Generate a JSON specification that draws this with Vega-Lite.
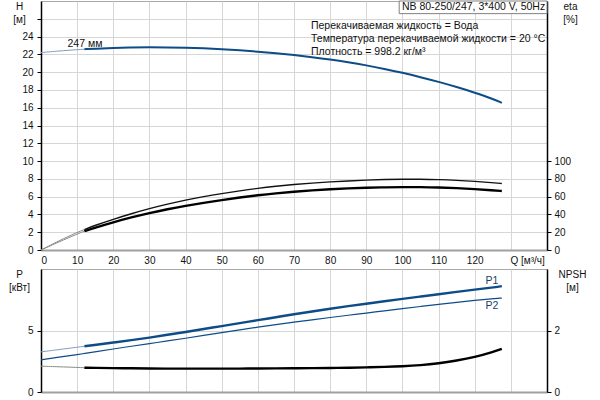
{
  "$schema": "https://vega.github.io/schema/vega-lite/v6.json",
  "padding": {"left": 8, "top": 0, "right": 0, "bottom": 0},
  "background": "white",
  "spacing": 19,
  "bounds": "flush",
  "config": {
    "font": "Liberation Sans",
    "view": {"stroke": "#a8a8a8", "strokeWidth": 1},
    "axis": {
      "labelFont": "Liberation Sans", "labelFontSize": 10, "labelColor": "#111",
      "titleFont": "Liberation Sans", "titleFontSize": 10, "titleFontWeight": "normal", "titleColor": "#111",
      "gridColor": "#d6d6d6", "gridWidth": 1, "domainColor": "#000", "tickColor": "#000"
    },
    "text": {"font": "Liberation Sans", "fontSize": 10}
  },
  "datasets": {
    "curves": [
      {"Q": 0, "H": 22.2, "eta1": 0, "eta2": 0, "P1": 3.26, "P2": 2.61, "NPSH": 0.84},
      {"Q": 5, "H": 22.38, "eta1": 10.5, "eta2": 9.2, "P1": 3.45, "P2": 2.83, "NPSH": 0.82},
      {"Q": 10, "H": 22.53, "eta1": 19.8, "eta2": 17.9, "P1": 3.64, "P2": 3.04, "NPSH": 0.8},
      {"Q": 12, "H": 22.58, "eta1": 23, "eta2": 21.2, "P1": 3.72, "P2": 3.13, "NPSH": 0.79},
      {"Q": 15, "H": 22.64, "eta1": 27.8, "eta2": 25.2, "P1": 3.83, "P2": 3.27, "NPSH": 0.785},
      {"Q": 20, "H": 22.72, "eta1": 34.6, "eta2": 31.2, "P1": 4.02, "P2": 3.5, "NPSH": 0.775},
      {"Q": 25, "H": 22.77, "eta1": 40.9, "eta2": 36.7, "P1": 4.21, "P2": 3.72, "NPSH": 0.77},
      {"Q": 30, "H": 22.79, "eta1": 46.6, "eta2": 41.6, "P1": 4.42, "P2": 3.94, "NPSH": 0.765},
      {"Q": 35, "H": 22.79, "eta1": 51.7, "eta2": 45.9, "P1": 4.65, "P2": 4.15, "NPSH": 0.76},
      {"Q": 40, "H": 22.76, "eta1": 56.2, "eta2": 49.7, "P1": 4.88, "P2": 4.37, "NPSH": 0.76},
      {"Q": 45, "H": 22.69, "eta1": 60.1, "eta2": 53.1, "P1": 5.12, "P2": 4.6, "NPSH": 0.76},
      {"Q": 50, "H": 22.59, "eta1": 63.5, "eta2": 56.2, "P1": 5.36, "P2": 4.83, "NPSH": 0.76},
      {"Q": 55, "H": 22.46, "eta1": 66.6, "eta2": 59.0, "P1": 5.6, "P2": 5.05, "NPSH": 0.76},
      {"Q": 60, "H": 22.3, "eta1": 69.4, "eta2": 61.6, "P1": 5.84, "P2": 5.27, "NPSH": 0.765},
      {"Q": 65, "H": 22.12, "eta1": 71.7, "eta2": 63.8, "P1": 6.08, "P2": 5.48, "NPSH": 0.77},
      {"Q": 70, "H": 21.92, "eta1": 73.7, "eta2": 65.6, "P1": 6.32, "P2": 5.68, "NPSH": 0.77},
      {"Q": 75, "H": 21.69, "eta1": 75.3, "eta2": 67.1, "P1": 6.55, "P2": 5.87, "NPSH": 0.775},
      {"Q": 80, "H": 21.43, "eta1": 76.6, "eta2": 68.3, "P1": 6.77, "P2": 6.06, "NPSH": 0.78},
      {"Q": 85, "H": 21.12, "eta1": 77.7, "eta2": 69.3, "P1": 6.98, "P2": 6.24, "NPSH": 0.79},
      {"Q": 90, "H": 20.77, "eta1": 78.6, "eta2": 70.0, "P1": 7.18, "P2": 6.42, "NPSH": 0.8},
      {"Q": 95, "H": 20.37, "eta1": 79.3, "eta2": 70.5, "P1": 7.38, "P2": 6.6, "NPSH": 0.815},
      {"Q": 100, "H": 19.93, "eta1": 79.6, "eta2": 70.8, "P1": 7.57, "P2": 6.78, "NPSH": 0.835},
      {"Q": 105, "H": 19.44, "eta1": 79.6, "eta2": 70.8, "P1": 7.76, "P2": 6.95, "NPSH": 0.87},
      {"Q": 110, "H": 18.91, "eta1": 79.2, "eta2": 70.4, "P1": 7.95, "P2": 7.12, "NPSH": 0.93},
      {"Q": 115, "H": 18.33, "eta1": 78.4, "eta2": 69.6, "P1": 8.14, "P2": 7.29, "NPSH": 1.02},
      {"Q": 120, "H": 17.7, "eta1": 77.2, "eta2": 68.5, "P1": 8.32, "P2": 7.45, "NPSH": 1.13},
      {"Q": 125, "H": 17.0, "eta1": 75.7, "eta2": 67.1, "P1": 8.5, "P2": 7.58, "NPSH": 1.3},
      {"Q": 127.5, "H": 16.55, "eta1": 74.8, "eta2": 66.3, "P1": 8.61, "P2": 7.64, "NPSH": 1.4}
    ],
    "notes": [
      {"Q": 7.33, "H": 22.82, "label": "247 мм"},
      {"Q": 74.7, "H": 24.89, "label": "Перекачиваемая жидкость = Вода"},
      {"Q": 74.7, "H": 23.4, "label": "Температура перекачиваемой жидкости = 20 °C"},
      {"Q": 74.7, "H": 21.94, "label": "Плотность = 998.2 кг/м³"},
      {"Q": 99.86, "H": 26.95, "label": "NB 80-250/247, 3*400 V, 50Hz"}
    ],
    "box": [
      {"Q": 99.1, "Q2": 140, "H": 26.58, "H2": 28}
    ],
    "plabels": [
      {"Q": 123.0, "P": 8.81, "label": "P1"},
      {"Q": 123.0, "P": 6.71, "label": "P2"}
    ]
  },
  "vconcat": [
    {
      "width": 506,
      "height": 249,
      "data": {"name": "curves"},
      "encoding": {
        "x": {
          "field": "Q", "type": "quantitative",
          "scale": {"domain": [0, 140], "nice": false},
          "axis": {
            "values": [0, 10, 20, 30, 40, 50, 60, 70, 80, 90, 100, 110, 120, 130],
            "labelExpr": "datum.value == 130 ? '' : datum.label",
            "title": "Q [м³/ч]", "titleX": 469, "titleY": 5, "titleAlign": "left", "titleBaseline": "top",
            "ticks": false, "labelPadding": 5, "domainColor": "#a0a0a0", "domainWidth": 2, "grid": true
          }
        }
      },
      "layer": [
        {
          "encoding": {
            "y": {
              "field": "H", "type": "quantitative",
              "scale": {"domain": [0, 28], "nice": false},
              "axis": {
                "values": [0, 2, 4, 6, 8, 10, 12, 14, 16, 18, 20, 22, 24, 26],
                "labelExpr": "datum.value == 26 ? '' : datum.label",
                "title": ["H", "[м]"], "titleAngle": 0, "titleAlign": "center", "titleBaseline": "top",
                "titleX": -22, "titleY": 0, "titleLineHeight": 13,
                "tickSize": 4, "labelPadding": 4, "domainWidth": 1.5, "grid": true
              }
            }
          },
          "layer": [
            {"transform": [{"filter": "datum.Q <= 12"}], "mark": {"type": "line", "color": "#7f9cc0", "strokeWidth": 1, "interpolate": "basis"}},
            {"transform": [{"filter": "datum.Q >= 12"}], "mark": {"type": "line", "color": "#0d4c87", "strokeWidth": 2, "interpolate": "basis"}},
            {
              "data": {"name": "box"},
              "mark": {"type": "rect", "fill": "white", "stroke": "#808080", "strokeWidth": 1},
              "encoding": {"x2": {"field": "Q2"}, "y2": {"field": "H2"}}
            },
            {
              "data": {"name": "notes"},
              "mark": {"type": "text", "align": "left", "baseline": "alphabetic", "color": "#111", "fontSize": 10.5},
              "encoding": {"text": {"field": "label"}}
            }
          ]
        },
        {
          "transform": [{"fold": ["eta1", "eta2"], "as": ["k", "eta"]}],
          "encoding": {
            "y": {
              "field": "eta", "type": "quantitative",
              "scale": {"domain": [0, 280], "nice": false},
              "axis": {
                "orient": "right",
                "values": [0, 20, 40, 60, 80, 100],
                "title": ["eta", "[%]"], "titleAngle": 0, "titleAlign": "center", "titleBaseline": "top",
                "titleX": 23, "titleY": 0, "titleLineHeight": 13,
                "tickSize": 4, "labelPadding": 3, "domainWidth": 1.5, "grid": false
              }
            }
          },
          "layer": [
            {"transform": [{"filter": "datum.Q <= 12"}], "mark": {"type": "line", "color": "#8a8a8a", "strokeWidth": 1, "interpolate": "basis"}, "encoding": {"detail": {"field": "k"}}},
            {"transform": [{"filter": "datum.Q >= 12 && datum.k == 'eta1'"}], "mark": {"type": "line", "color": "#111", "strokeWidth": 1.4, "interpolate": "basis"}},
            {"transform": [{"filter": "datum.Q >= 12 && datum.k == 'eta2'"}], "mark": {"type": "line", "color": "#000", "strokeWidth": 2.4, "interpolate": "basis"}}
          ]
        }
      ],
      "resolve": {"scale": {"y": "independent"}}
    },
    {
      "width": 506,
      "height": 123,
      "data": {"name": "curves"},
      "encoding": {
        "x": {
          "field": "Q", "type": "quantitative",
          "scale": {"domain": [0, 140], "nice": false},
          "axis": {
            "values": [0, 10, 20, 30, 40, 50, 60, 70, 80, 90, 100, 110, 120, 130],
            "labels": false, "ticks": false, "title": null,
            "domainColor": "#a0a0a0", "domainWidth": 2, "grid": true
          }
        }
      },
      "layer": [
        {
          "encoding": {
            "y": {
              "field": "P", "type": "quantitative",
              "scale": {"domain": [0, 10], "nice": false},
              "axis": {
                "values": [0, 5],
                "title": ["P", "[кВт]"], "titleAngle": 0, "titleAlign": "center", "titleBaseline": "top",
                "titleX": -22, "titleY": 0, "titleLineHeight": 13,
                "tickSize": 4, "labelPadding": 4, "domainWidth": 1.5, "grid": true
              }
            }
          },
          "layer": [
            {"transform": [{"fold": ["P1"], "as": ["k", "P"]}, {"filter": "datum.Q <= 12"}], "mark": {"type": "line", "color": "#7f9cc0", "strokeWidth": 1, "interpolate": "basis"}},
            {"transform": [{"fold": ["P1"], "as": ["k", "P"]}, {"filter": "datum.Q >= 12"}], "mark": {"type": "line", "color": "#0d4c87", "strokeWidth": 2.4, "interpolate": "basis"}},
            {"transform": [{"fold": ["P2"], "as": ["k", "P"]}], "mark": {"type": "line", "color": "#0d4c87", "strokeWidth": 1.2, "interpolate": "basis"}},
            {
              "data": {"name": "plabels"},
              "mark": {"type": "text", "align": "left", "baseline": "alphabetic", "color": "#1a3f6a", "fontSize": 10.5},
              "encoding": {"text": {"field": "label"}}
            }
          ]
        },
        {
          "encoding": {
            "y": {
              "field": "NPSH", "type": "quantitative",
              "scale": {"domain": [0, 4], "nice": false},
              "axis": {
                "orient": "right",
                "values": [0, 2],
                "title": ["NPSH", "[м]"], "titleAngle": 0, "titleAlign": "center", "titleBaseline": "top",
                "titleX": 25, "titleY": 0, "titleLineHeight": 13,
                "tickSize": 4, "labelPadding": 3, "domainWidth": 1.5, "grid": false
              }
            }
          },
          "layer": [
            {"transform": [{"filter": "datum.Q <= 12"}], "mark": {"type": "line", "color": "#8a8a8a", "strokeWidth": 1, "interpolate": "basis"}},
            {"transform": [{"filter": "datum.Q >= 12"}], "mark": {"type": "line", "color": "#000", "strokeWidth": 2.4, "interpolate": "basis"}}
          ]
        }
      ],
      "resolve": {"scale": {"y": "independent"}}
    }
  ]
}
